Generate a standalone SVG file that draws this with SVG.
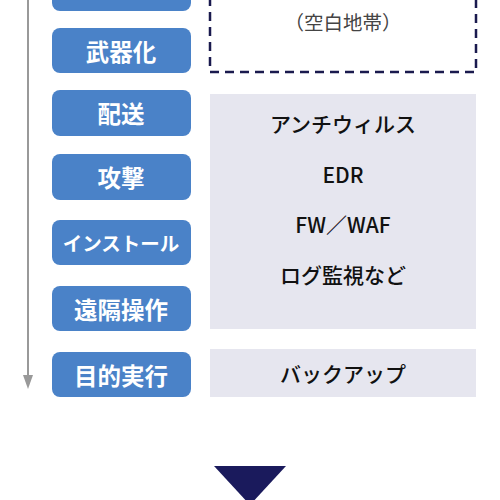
<svg xmlns="http://www.w3.org/2000/svg" width="500" height="500" viewBox="0 0 500 500">
<style>
.stage rect{fill:#4a82c8}
.stage text{fill:#fff;font-family:"Noto Sans CJK JP","Noto Sans",sans-serif;font-weight:bold;font-size:23.5px;text-anchor:middle;dominant-baseline:central}
.def rect{fill:#e6e6ef}
.def text,.blank text{fill:#111;font-family:"Noto Sans CJK JP","Noto Sans",sans-serif;font-weight:500;font-size:21px;text-anchor:middle;dominant-baseline:central}
.blank text{fill:#444;font-weight:normal;font-size:19.5px}
</style>
<rect width="500" height="500" fill="#fff"/>
<g id="connectors">
<line x1="28" y1="-5" x2="28" y2="378" stroke="#999" stroke-width="2"/>
<path d="M23,375 L33,375 L28,389 Z" fill="#999"/>
</g>
<g id="s1" class="stage"><rect x="52" y="-38" width="139" height="49" rx="8"/></g>
<g id="s2" class="stage"><rect x="52" y="28" width="139" height="45" rx="8"/><text x="121" y="51">武器化</text></g>
<g id="s3" class="stage"><rect x="52" y="90" width="139" height="46" rx="8"/><text x="121" y="113">配送</text></g>
<g id="s4" class="stage"><rect x="52" y="154" width="139" height="46" rx="8"/><text x="121" y="177">攻撃</text></g>
<g id="s5" class="stage"><rect x="52" y="220" width="139" height="45" rx="8"/><text x="121" y="242.5" style="font-size:19.5px">インストール</text></g>
<g id="s6" class="stage"><rect x="52" y="286" width="139" height="45" rx="8"/><text x="121" y="308.5">遠隔操作</text></g>
<g id="s7" class="stage"><rect x="52" y="352" width="139" height="45" rx="8"/><text x="121" y="374.5">目的実行</text></g>
<g id="blank" class="blank">
<rect x="210" y="-20" width="266" height="92" fill="none" stroke="#1a1a4e" stroke-width="2.5" stroke-dasharray="9,6"/>
<text x="343" y="21">（空白地帯）</text>
</g>
<g id="defense" class="def">
<rect x="210" y="94" width="266" height="235"/>
<text x="343" y="123">アンチウィルス</text>
<text x="343" y="174">EDR</text>
<text x="343" y="224">FW／WAF</text>
<text x="343" y="274">ログ監視など</text>
</g>
<g id="backup" class="def">
<rect x="210" y="349" width="266" height="48"/>
<text x="343" y="373">バックアップ</text>
</g>
<g id="result">
<path d="M214,466 L286,466 L250,505 Z" fill="#1a1a5c"/>
</g>
</svg>
